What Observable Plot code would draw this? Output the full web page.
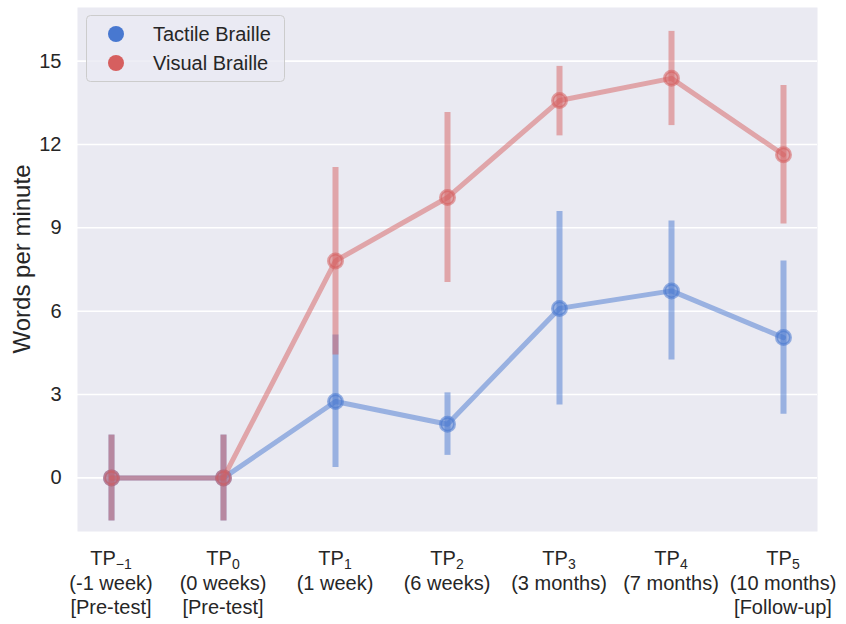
<!DOCTYPE html>
<html>
<head>
<meta charset="utf-8">
<script src="https://cdn.jsdelivr.net/npm/d3@7"></script>
<script src="https://cdn.jsdelivr.net/npm/@observablehq/plot@0.6"></script>
<style>
  html, body { margin: 0; padding: 0; background: #ffffff; }
  #chart { width: 846px; height: 624px; }
  svg { font-family: "Liberation Sans", Arial, sans-serif; }
</style>
</head>
<body>
<div id="chart"></div>
<script>
// ---- data ----
const keys = ["TP-1", "TP0", "TP1", "TP2", "TP3", "TP4", "TP5"];
const tpSub = ["\u22121", "0", "1", "2", "3", "4", "5"];
const tpLine2 = ["(-1 week)", "(0 weeks)", "(1 week)", "(6 weeks)", "(3 months)", "(7 months)", "(10 months)"];
const tpLine3 = ["[Pre-test]", "[Pre-test]", "", "", "", "", "[Follow-up]"];

const seriesNames = ["Tactile Braille", "Visual Braille"];
const seriesColors = ["#4878d0", "#d65f5f"];

const tactileMean = [0, 0, 2.75, 1.93, 6.10, 6.73, 5.05];
const tactileLo   = [-1.55, -1.55, 0.37, 0.81, 2.62, 4.24, 2.29];
const tactileHi   = [1.54, 1.54, 5.14, 3.06, 9.59, 9.25, 7.81];

const visualMean = [0, 0, 7.81, 10.09, 13.58, 14.38, 11.63];
const visualLo   = [-1.55, -1.55, 4.42, 7.03, 12.31, 12.68, 9.14];
const visualHi   = [1.54, 1.54, 11.17, 13.15, 14.81, 16.07, 14.12];

const yTicks = [0, 3, 6, 9, 12, 15];
const yLabel = "Words per minute";

// ---- build rows ----
function rowsFor(name, mean, lo, hi) {
  return keys.map((k, i) => ({ series: name, key: k, mean: mean[i], lo: lo[i], hi: hi[i] }));
}
const tactile = rowsFor(seriesNames[0], tactileMean, tactileLo, tactileHi);
const visual = rowsFor(seriesNames[1], visualMean, visualLo, visualHi);

function seriesMarks(rows) {
  return [
    Plot.ruleX(rows, { x: "key", y1: "lo", y2: "hi", stroke: "series", strokeWidth: 6, strokeOpacity: 0.5 }),
    Plot.line(rows, { x: "key", y: "mean", stroke: "series", strokeWidth: 5, strokeOpacity: 0.5 }),
    Plot.dot(rows, { x: "key", y: "mean", r: 7, fill: "series", fillOpacity: 0.5, stroke: "series", strokeOpacity: 0.55, strokeWidth: 3 })
  ];
}

const chart = Plot.plot({
  width: 846,
  height: 624,
  marginLeft: 77,
  marginRight: 29,
  marginTop: 7,
  marginBottom: 93,
  style: { background: "#ffffff", fontFamily: "Liberation Sans, Arial, sans-serif" },
  x: { type: "point", domain: keys, padding: 0.3, axis: null },
  y: { domain: [-1.93, 16.93], axis: null },
  color: { domain: seriesNames, range: seriesColors },
  marks: [
    Plot.frame({ fill: "#eaeaf2", stroke: null }),
    Plot.gridY(yTicks, { stroke: "#ffffff", strokeOpacity: 1, strokeWidth: 1.6 }),
    Plot.axisY(yTicks, { tickSize: 0, tickPadding: 16, fontSize: 20, fill: "#262626", label: null }),
    ...seriesMarks(tactile),
    ...seriesMarks(visual)
  ]
});

document.getElementById("chart").appendChild(chart);

// ---- custom x tick labels (with subscripts) ----
const svg = d3.select(chart);
const xs = chart.scale("x");
const gx = svg.append("g").attr("fill", "#262626").attr("font-size", 20).attr("text-anchor", "middle");
keys.forEach((k, i) => {
  const cx = xs.apply(k);
  const t1 = gx.append("text").attr("x", cx).attr("y", 565);
  t1.append("tspan").text("TP");
  t1.append("tspan").attr("font-size", 14).attr("dy", 3.5).text(tpSub[i]);
  gx.append("text").attr("x", cx).attr("y", 590).text(tpLine2[i]);
  if (tpLine3[i]) gx.append("text").attr("x", cx).attr("y", 614).text(tpLine3[i]);
});

// ---- y label ----
svg.append("text")
  .attr("transform", "translate(30,259) rotate(-90)")
  .attr("text-anchor", "middle")
  .attr("font-size", 24)
  .attr("fill", "#262626")
  .text(yLabel);

// ---- legend ----
const lg = svg.append("g").attr("text-anchor", "start");
lg.append("rect")
  .attr("x", 86.5).attr("y", 15.5).attr("width", 198).attr("height", 66).attr("rx", 4)
  .attr("fill", "#eaeaf2").attr("fill-opacity", 0.8).attr("stroke", "#cccccc").attr("stroke-width", 1);
seriesNames.forEach((name, i) => {
  const cy = 34 + i * 29;
  lg.append("circle").attr("cx", 116).attr("cy", cy).attr("r", 8).attr("fill", seriesColors[i]);
  lg.append("text").attr("x", 153).attr("y", cy).attr("dy", "0.35em")
    .attr("text-anchor", "start")
    .attr("font-size", 20).attr("fill", "#262626").text(name);
});
</script>
</body>
</html>
